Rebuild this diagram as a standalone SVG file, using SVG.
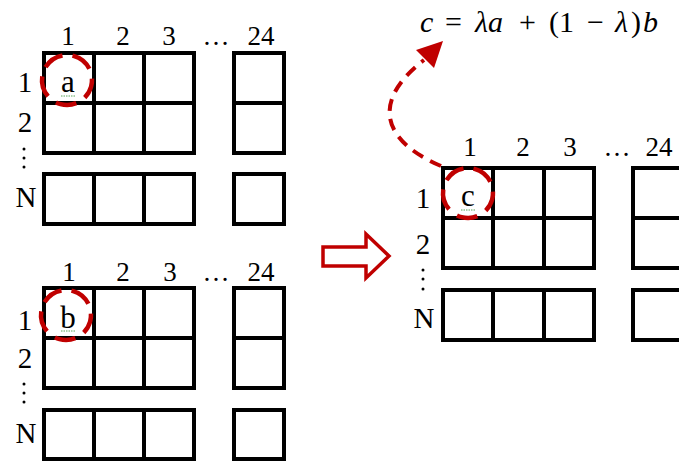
<svg xmlns="http://www.w3.org/2000/svg" width="679" height="461" viewBox="0 0 679 461">
<style>
.cell{fill:#fff;stroke:#000;stroke-width:4}
.lbl{font-family:"Liberation Serif","Times New Roman",serif;font-size:27px;fill:#000;text-anchor:middle}
.row{font-family:"Liberation Serif","Times New Roman",serif;font-size:29px;fill:#000;text-anchor:middle}
.let{font-family:"Liberation Serif","Times New Roman",serif;font-size:31px;fill:#000;text-anchor:middle}
.dc{fill:none;stroke:#C00000;stroke-width:4.5;stroke-dasharray:21 10}
.sq{fill:none;stroke:#5aa55a;stroke-width:1;stroke-dasharray:1.5 1}
.math{font-family:"Liberation Serif","Cambria Math","Times New Roman",serif;font-size:30px;fill:#000}
.it{font-style:italic}
</style>
<rect width="679" height="461" fill="#fff"/>

<g id="matrixA">
  <rect class="cell" x="44" y="53" width="50" height="50"/>
  <rect class="cell" x="94" y="53" width="50" height="50"/>
  <rect class="cell" x="144" y="53" width="50" height="50"/>
  <rect class="cell" x="44" y="103" width="50" height="50"/>
  <rect class="cell" x="94" y="103" width="50" height="50"/>
  <rect class="cell" x="144" y="103" width="50" height="50"/>
  <rect class="cell" x="234" y="53" width="50" height="50"/>
  <rect class="cell" x="234" y="103" width="50" height="50"/>
  <rect class="cell" x="44" y="174" width="50" height="50"/>
  <rect class="cell" x="94" y="174" width="50" height="50"/>
  <rect class="cell" x="144" y="174" width="50" height="50"/>
  <rect class="cell" x="234" y="174" width="50" height="50"/>
  <text class="lbl" x="68" y="45">1</text>
  <text class="lbl" x="123" y="45">2</text>
  <text class="lbl" x="169" y="45">3</text>
  <text class="lbl" x="216" y="45">…</text>
  <text class="lbl" x="261" y="45">24</text>
  <text class="row" x="25" y="92">1</text>
  <text class="row" x="25" y="132">2</text>
  <circle cx="24" cy="149" r="1.5"/><circle cx="24" cy="158" r="1.5"/><circle cx="24" cy="167" r="1.5"/>
  <text class="row" x="26" y="207">N</text>
  <text class="let" x="68" y="92">a</text>
  <path class="sq" d="M61 96 H76"/>
  <circle class="dc" cx="67" cy="80" r="25" transform="rotate(-75 67 80)"/>
</g>

<g id="matrixB">
  <rect class="cell" x="44" y="288" width="50" height="50"/>
  <rect class="cell" x="94" y="288" width="50" height="50"/>
  <rect class="cell" x="144" y="288" width="50" height="50"/>
  <rect class="cell" x="44" y="338" width="50" height="50"/>
  <rect class="cell" x="94" y="338" width="50" height="50"/>
  <rect class="cell" x="144" y="338" width="50" height="50"/>
  <rect class="cell" x="234" y="288" width="50" height="50"/>
  <rect class="cell" x="234" y="338" width="50" height="50"/>
  <rect class="cell" x="44" y="410" width="50" height="49"/>
  <rect class="cell" x="94" y="410" width="50" height="49"/>
  <rect class="cell" x="144" y="410" width="50" height="49"/>
  <rect class="cell" x="234" y="410" width="50" height="49"/>
  <text class="lbl" x="69" y="281">1</text>
  <text class="lbl" x="123" y="281">2</text>
  <text class="lbl" x="170" y="281">3</text>
  <text class="lbl" x="216" y="281">…</text>
  <text class="lbl" x="261" y="281">24</text>
  <text class="row" x="25" y="330">1</text>
  <text class="row" x="25" y="368">2</text>
  <circle cx="24" cy="384" r="1.5"/><circle cx="24" cy="393" r="1.5"/><circle cx="24" cy="402" r="1.5"/>
  <text class="row" x="26" y="443">N</text>
  <text class="let" x="68" y="328">b</text>
  <path class="sq" d="M61 331 H76"/>
  <circle class="dc" cx="66" cy="315" r="25" transform="rotate(-75 66 315)"/>
</g>

<g id="matrixC">
  <rect class="cell" x="443" y="168" width="50" height="50"/>
  <rect class="cell" x="493" y="168" width="51" height="50"/>
  <rect class="cell" x="544" y="168" width="50" height="50"/>
  <rect class="cell" x="443" y="218" width="50" height="50"/>
  <rect class="cell" x="493" y="218" width="51" height="50"/>
  <rect class="cell" x="544" y="218" width="50" height="50"/>
  <rect class="cell" x="633" y="168" width="50" height="50"/>
  <rect class="cell" x="633" y="218" width="50" height="50"/>
  <rect class="cell" x="443" y="290" width="50" height="50"/>
  <rect class="cell" x="493" y="290" width="51" height="50"/>
  <rect class="cell" x="544" y="290" width="50" height="50"/>
  <rect class="cell" x="633" y="290" width="50" height="50"/>
  <text class="lbl" x="470" y="156">1</text>
  <text class="lbl" x="523" y="156">2</text>
  <text class="lbl" x="570" y="156">3</text>
  <text class="lbl" x="617" y="156">…</text>
  <text class="lbl" x="659" y="156">24</text>
  <text class="row" x="423" y="208">1</text>
  <text class="row" x="423" y="254">2</text>
  <circle cx="423" cy="270" r="1.5"/><circle cx="423" cy="279" r="1.5"/><circle cx="423" cy="289" r="1.5"/>
  <text class="row" x="424" y="328">N</text>
  <text class="let" x="468" y="206">c</text>
  <path class="sq" d="M461 210 H476"/>
  <circle class="dc" cx="468" cy="193" r="25" transform="rotate(-75 468 193)"/>
</g>

<g id="formula">
  <text class="math" y="32"><tspan class="it" x="420">c</tspan><tspan x="445">=</tspan><tspan class="it" x="475">λ</tspan><tspan class="it" x="488">a</tspan><tspan x="519">+</tspan><tspan x="549">(</tspan><tspan x="559">1</tspan><tspan x="587">−</tspan><tspan class="it" x="615">λ</tspan><tspan x="631">)</tspan><tspan class="it" x="643">b</tspan></text>
</g>

<g id="bigArrow">
  <polygon points="323,247 366,247 366,234 389,256 366,278 366,266 323,266" fill="#fff" stroke="#C00000" stroke-width="3.5" stroke-linejoin="miter"/>
</g>

<g id="connectors">
  <path d="M441 166 C380 140 372 100 424 60" fill="none" stroke="#C00000" stroke-width="4" stroke-dasharray="12 8"/>
  <polygon points="443,41 416,50 434,68" fill="#C00000"/>
</g>
</svg>
